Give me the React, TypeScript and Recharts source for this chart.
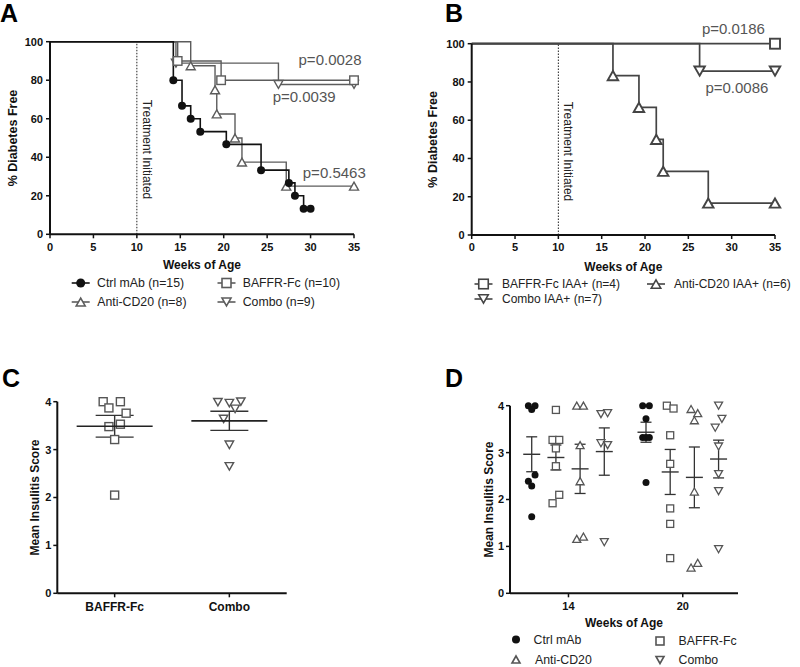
import React from 'react';
import {
  LineChart,
  Line,
  XAxis,
  YAxis,
  ReferenceLine,
  ReferenceDot,
  ScatterChart,
  Scatter,
  ErrorBar,
} from 'recharts';

const FONT = '"Liberation Sans", Arial, Helvetica, sans-serif';
const INK = '#111111';
const GREY = '#5c5c5c';
const DARK = '#444444';

// ---- A: diabetes-free, all mice ----
const weekTicks = [0, 5, 10, 15, 20, 25, 30, 35];
const freeTicks = [0, 20, 40, 60, 80, 100];
const treatmentWeek = 10;

const ctrlWeeks = [0, 14.2, 15.2, 16.2, 17.3, 20.3, 24.3, 27.5, 28.2, 29.2, 30];
const ctrlFree = [100, 80, 66.7, 60, 53.3, 46.7, 33.3, 26.7, 20, 13.3, 13.3];
const baffrWeeks = [0, 14.7, 19.7, 35];
const baffrFree = [100, 90, 80, 80];
const antiWeeks = [0, 16.2, 19.0, 19.2, 21.3, 22.1, 27.2, 35];
const antiFree = [100, 87.5, 75, 62.5, 50, 37.5, 25, 25];
const comboWeeks = [0, 14.5, 26.3, 35];
const comboFree = [100, 88.9, 77.8, 77.8];

// ---- B: IAA+ subset ----
const iaaBaffrWeeks = [0, 35];
const iaaBaffrFree = [100, 100];
const iaaComboWeeks = [0, 26.3, 35];
const iaaComboFree = [100, 85.7, 85.7];
const iaaAntiWeeks = [0, 16.3, 19.3, 21.3, 22.1, 27.3, 35];
const iaaAntiFree = [100, 83.3, 66.7, 50, 33.3, 16.7, 16.7];

// ---- C: insulitis score, end of study ----
const cGroups = ['BAFFR-Fc', 'Combo'];
const scoreTicks = [0, 1, 2, 3, 4];
const cBaffr = [4.0, 4.0, 3.87, 3.76, 3.53, 3.48, 3.21, 2.05];
const cBaffrSlot = [-2, 1, -1, 2, 1, -1, 0, 0];
const cCombo = [3.99, 3.97, 4.0, 3.85, 3.64, 3.1, 2.65];
const cComboSlot = [-2, 0, 2, 1, -1, 0, 0];

// ---- D: insulitis score by week ----
const dWeeks = [14, 20];
const dCtrl14 = [4.0, 4.0, 3.92, 2.52, 2.39, 2.29, 1.63];
const dCtrl14Slot = [-1, 1, 0, 1, -1, 0, 0];
const dBaffr14 = [3.91, 3.27, 3.27, 3.09, 2.71, 1.92, 2.1];
const dBaffr14Slot = [0, -1, 1, 0, 0, -1, 1];
const dAnti14 = [4.0, 4.0, 3.16, 2.39, 1.16, 1.21];
const dAnti14Slot = [-1, 1, 0, 0, -1, 1];
const dCombo14 = [3.82, 3.84, 3.2, 3.16, 1.09];
const dCombo14Slot = [-1, 1, -1, 1, 0];
const dCtrl20 = [4.0, 4.0, 3.72, 3.32, 3.32, 3.32, 2.36];
const dCtrl20Slot = [-1, 1, 0, -1, 0, 1, 0];
const dBaffr20 = [4.0, 3.94, 3.37, 2.76, 1.81, 1.48, 0.75];
const dBaffr20Slot = [-1, 1, 0, 0, 0, 0, 0];
const dAnti20 = [3.93, 3.84, 3.69, 2.17, 0.55, 0.65];
const dAnti20Slot = [-1, 1, 0, 0, -1, 1];
const dCombo20 = [4.0, 3.72, 3.53, 3.13, 2.54, 2.18, 0.94];
const dCombo20Slot = [0, 1, -1, 0, 0, 0, 0];

// horizontal dodge of the four treatment columns around each week (in weeks)
const dDodge = [-1.93, -0.66, 0.61, 1.88];

type Kind = 'circle' | 'square' | 'up' | 'down';

const steps = (xs: number[], ys: number[]) => xs.map((x, i) => ({ x, y: ys[i] }));
const mean = (v: number[]) => v.reduce((a, b) => a + b, 0) / v.length;
const sem = (v: number[]) => {
  const m = mean(v);
  const ss = v.reduce((a, b) => a + (b - m) * (b - m), 0);
  return Math.sqrt(ss / (v.length - 1)) / Math.sqrt(v.length);
};
const spread = (values: number[], slots: number[], center: number, step: number) =>
  values.map((y, i) => ({ x: center + slots[i] * step, y }));
const summary = (values: number[], x: number) => ({ x, y: mean(values), sem: sem(values) });

function Marker({ kind, cx, cy, size, stroke, sw = 1.4 }: {
  kind: Kind; cx: number; cy: number; size: number; stroke: string; sw?: number;
}) {
  const h = size / 2;
  const th = size * 0.88;
  if (kind === 'circle') return <circle cx={cx} cy={cy} r={h} fill={stroke} />;
  if (kind === 'square')
    return <rect x={cx - h} y={cy - h} width={size} height={size} fill="#fff" stroke={stroke} strokeWidth={sw} />;
  const d = kind === 'up'
    ? `M${cx},${cy - th / 2}L${cx + h},${cy + th / 2}L${cx - h},${cy + th / 2}Z`
    : `M${cx},${cy + th / 2}L${cx + h},${cy - th / 2}L${cx - h},${cy - th / 2}Z`;
  return <path d={d} fill="#fff" stroke={stroke} strokeWidth={sw} strokeLinejoin="miter" />;
}

// survival curves mark every event after the start point
const kmDot = (kind: Kind, color: string, size: number, sw: number) => (p: any) => {
  if (p.index === 0 || p.cx == null) return <g key={`d${p.index}`} />;
  return <Marker key={`d${p.index}`} kind={kind} cx={p.cx} cy={p.cy} size={size} stroke={color} sw={sw} />;
};

const pointShape = (kind: Kind, color: string, size: number, sw = 1.3) => (p: any) =>
  <Marker kind={kind} cx={p.cx} cy={p.cy} size={size} stroke={color} sw={sw} />;

const meanShape = (half: number, color: string, width: number) => (p: any) =>
  <line x1={p.cx - half} x2={p.cx + half} y1={p.cy} y2={p.cy} stroke={color} strokeWidth={width} />;

const TreatmentLabel = (props: any) => {
  const vb = props.viewBox || { x: 0, y: 0 };
  const x = vb.x + 6;
  const y = vb.y + 58;
  return (
    <text x={x} y={y} transform={`rotate(90 ${x} ${y})`} fontSize={12} fill="#222">
      Treatment Initiated
    </text>
  );
};

const axisLine = { stroke: INK, strokeWidth: 2 };
const tickLine = { stroke: INK, strokeWidth: 1.5 };
const tickFont = { fontSize: 11, fontWeight: 700, fill: INK };
const titleStyle = (size: number) => ({ fontSize: size, fontWeight: 700, fill: INK, textAnchor: 'middle' as const });

function PanelA() {
  return (
    <LineChart width={380} height={280} margin={{ top: 41.7, right: 26, bottom: 0, left: 0 }}>
      <XAxis
        type="number" dataKey="x" domain={[0, 35]} ticks={weekTicks}
        axisLine={axisLine} tickLine={tickLine} tickSize={4} tickMargin={5} tick={tickFont} height={45.7}
        label={{ value: 'Weeks of Age', position: 'insideBottom', offset: 10.7, style: titleStyle(12) }}
      />
      <YAxis
        type="number" dataKey="y" domain={[0, 100]} ticks={freeTicks}
        axisLine={axisLine} tickLine={tickLine} tickSize={4} tickMargin={3} tick={tickFont} width={50}
        label={{ value: '% Diabetes Free', angle: -90, position: 'insideLeft', offset: 12.7, style: titleStyle(12.5) }}
      />
      <ReferenceLine x={treatmentWeek} stroke="#222" strokeDasharray="1.5 1.5" label={<TreatmentLabel />} />
      <Line data={steps(comboWeeks, comboFree)} dataKey="y" type="stepAfter" stroke={GREY} strokeWidth={1.4}
        dot={kmDot('down', GREY, 9, 1.4)} activeDot={false} isAnimationActive={false} />
      <Line data={steps(antiWeeks, antiFree)} dataKey="y" type="stepAfter" stroke={GREY} strokeWidth={1.4}
        dot={kmDot('up', GREY, 9, 1.4)} activeDot={false} isAnimationActive={false} />
      <Line data={steps(baffrWeeks, baffrFree)} dataKey="y" type="stepAfter" stroke={GREY} strokeWidth={1.4}
        dot={kmDot('square', GREY, 8.5, 1.4)} activeDot={false} isAnimationActive={false} />
      <Line data={steps(ctrlWeeks, ctrlFree)} dataKey="y" type="stepAfter" stroke={INK} strokeWidth={1.6}
        dot={kmDot('circle', INK, 8, 1)} activeDot={false} isAnimationActive={false} />
      <ReferenceDot x={32.24} y={90.5} r={0} stroke="none" ifOverflow="visible"
        label={{ value: 'p=0.0028', position: 'center', fill: '#555', fontSize: 15 }} />
      <ReferenceDot x={29.26} y={71.5} r={0} stroke="none" ifOverflow="visible"
        label={{ value: 'p=0.0039', position: 'center', fill: '#555', fontSize: 15 }} />
      <ReferenceDot x={32.73} y={32} r={0} stroke="none" ifOverflow="visible"
        label={{ value: 'p=0.5463', position: 'center', fill: '#555', fontSize: 15 }} />
    </LineChart>
  );
}

function PanelB() {
  return (
    <LineChart width={380} height={280} margin={{ top: 43.7, right: 25, bottom: 0, left: 0 }}>
      <XAxis
        type="number" dataKey="x" domain={[0, 35]} ticks={weekTicks}
        axisLine={axisLine} tickLine={tickLine} tickSize={4} tickMargin={4} tick={tickFont} height={45}
        label={{ value: 'Weeks of Age', position: 'insideBottom', offset: 8.7, style: titleStyle(12) }}
      />
      <YAxis
        type="number" dataKey="y" domain={[0, 100]} ticks={freeTicks}
        axisLine={axisLine} tickLine={tickLine} tickSize={4} tickMargin={3} tick={tickFont} width={51.7}
        label={{ value: '% Diabetes Free', angle: -90, position: 'insideLeft', offset: 12.7, style: titleStyle(12.5) }}
      />
      <ReferenceLine x={treatmentWeek} stroke="#222" strokeDasharray="1.5 1.5" label={<TreatmentLabel />} />
      <Line data={steps(iaaBaffrWeeks, iaaBaffrFree)} dataKey="y" type="stepAfter" stroke={DARK} strokeWidth={1.7}
        dot={kmDot('square', DARK, 10, 1.9)} activeDot={false} isAnimationActive={false} />
      <Line data={steps(iaaComboWeeks, iaaComboFree)} dataKey="y" type="stepAfter" stroke={DARK} strokeWidth={1.7}
        dot={kmDot('down', DARK, 10.5, 1.9)} activeDot={false} isAnimationActive={false} />
      <Line data={steps(iaaAntiWeeks, iaaAntiFree)} dataKey="y" type="stepAfter" stroke={DARK} strokeWidth={1.7}
        dot={kmDot('up', DARK, 10.5, 1.9)} activeDot={false} isAnimationActive={false} />
      <ReferenceDot x={30.2} y={108} r={0} stroke="none" ifOverflow="visible"
        label={{ value: 'p=0.0186', position: 'center', fill: '#555', fontSize: 15 }} />
      <ReferenceDot x={30.6} y={77.2} r={0} stroke="none" ifOverflow="visible"
        label={{ value: 'p=0.0086', position: 'center', fill: '#555', fontSize: 15 }} />
    </LineChart>
  );
}

const cCenters = cGroups.map((_, i) => 1 + 2 * i);
const cStep = 0.1;

function PanelC() {
  const baffrPts = spread(cBaffr, cBaffrSlot, cCenters[0], cStep);
  const comboPts = spread(cCombo, cComboSlot, cCenters[1], cStep);
  const stats = [summary(cBaffr, cCenters[0]), summary(cCombo, cCenters[1])];
  return (
    <ScatterChart width={300} height={290} margin={{ top: 71.7, right: 13.3, bottom: 0, left: 0 }}>
      <XAxis
        type="number" dataKey="x" domain={[0, 4]} ticks={cCenters}
        tickFormatter={(v: number) => cGroups[cCenters.indexOf(v)] ?? ''}
        axisLine={axisLine} tickLine={tickLine} tickSize={4} tickMargin={5}
        tick={{ ...tickFont, fontSize: 12 }} height={26.7}
      />
      <YAxis
        type="number" dataKey="y" domain={[0, 4]} ticks={scoreTicks}
        axisLine={axisLine} tickLine={tickLine} tickSize={4} tickMargin={2} tick={tickFont} width={57.3}
        label={{ value: 'Mean Insulitis Score', angle: -90, position: 'insideLeft', offset: 34.3, style: titleStyle(12) }}
      />
      <Scatter data={baffrPts} shape={pointShape('square', '#555', 8, 1.4)} isAnimationActive={false} />
      <Scatter data={comboPts} shape={pointShape('down', '#555', 8.5, 1.4)} isAnimationActive={false} />
      <Scatter data={stats} shape={meanShape(38, '#222', 1.6)} isAnimationActive={false}>
        <ErrorBar dataKey="sem" direction="y" width={19} stroke="#333" strokeWidth={1.4} isAnimationActive={false} />
      </Scatter>
    </ScatterChart>
  );
}

const dStep = 0.175;

function PanelD() {
  const ctrl = [
    ...spread(dCtrl14, dCtrl14Slot, dWeeks[0] + dDodge[0], dStep),
    ...spread(dCtrl20, dCtrl20Slot, dWeeks[1] + dDodge[0], dStep),
  ];
  const baffr = [
    ...spread(dBaffr14, dBaffr14Slot, dWeeks[0] + dDodge[1], dStep),
    ...spread(dBaffr20, dBaffr20Slot, dWeeks[1] + dDodge[1], dStep),
  ];
  const anti = [
    ...spread(dAnti14, dAnti14Slot, dWeeks[0] + dDodge[2], dStep),
    ...spread(dAnti20, dAnti20Slot, dWeeks[1] + dDodge[2], dStep),
  ];
  const combo = [
    ...spread(dCombo14, dCombo14Slot, dWeeks[0] + dDodge[3], dStep),
    ...spread(dCombo20, dCombo20Slot, dWeeks[1] + dDodge[3], dStep),
  ];
  const stats = [
    summary(dCtrl14, dWeeks[0] + dDodge[0]),
    summary(dBaffr14, dWeeks[0] + dDodge[1]),
    summary(dAnti14, dWeeks[0] + dDodge[2]),
    summary(dCombo14, dWeeks[0] + dDodge[3]),
    summary(dCtrl20, dWeeks[1] + dDodge[0]),
    summary(dBaffr20, dWeeks[1] + dDodge[1]),
    summary(dAnti20, dWeeks[1] + dDodge[2]),
    summary(dCombo20, dWeeks[1] + dDodge[3]),
  ];
  return (
    <ScatterChart width={290} height={310} margin={{ top: 75.7, right: 12, bottom: 0, left: 0 }}>
      <XAxis
        type="number" dataKey="x" domain={[10.93, 22.9]} ticks={dWeeks}
        axisLine={axisLine} tickLine={tickLine} tickSize={4} tickMargin={5} tick={tickFont} height={46.7}
        label={{ value: 'Weeks of Age', position: 'insideBottom', offset: 13, style: titleStyle(12) }}
      />
      <YAxis
        type="number" dataKey="y" domain={[0, 4]} ticks={scoreTicks}
        axisLine={axisLine} tickLine={tickLine} tickSize={4} tickMargin={2} tick={tickFont} width={50}
        label={{ value: 'Mean Insulitis Score', angle: -90, position: 'insideLeft', offset: 28.3, style: titleStyle(12) }}
      />
      <Scatter data={ctrl} shape={pointShape('circle', INK, 7)} isAnimationActive={false} />
      <Scatter data={baffr} shape={pointShape('square', '#555', 7, 1.3)} isAnimationActive={false} />
      <Scatter data={anti} shape={pointShape('up', '#555', 8, 1.3)} isAnimationActive={false} />
      <Scatter data={combo} shape={pointShape('down', '#555', 8, 1.3)} isAnimationActive={false} />
      <Scatter data={stats} shape={meanShape(8.5, '#333', 1.4)} isAnimationActive={false}>
        <ErrorBar dataKey="sem" direction="y" width={5.5} stroke="#333" strokeWidth={1.3} isAnimationActive={false} />
      </Scatter>
    </ScatterChart>
  );
}

type Entry = { kind: Kind; label: string; x: number; y: number; tx: number; color: string };

const legendA: Entry[] = [
  { kind: 'circle', label: 'Ctrl mAb (n=15)', x: 80.7, y: 283, tx: 97, color: INK },
  { kind: 'square', label: 'BAFFR-Fc (n=10)', x: 226.5, y: 283, tx: 242.7, color: GREY },
  { kind: 'up', label: 'Anti-CD20 (n=8)', x: 80.7, y: 302, tx: 97.3, color: GREY },
  { kind: 'down', label: 'Combo (n=9)', x: 226.5, y: 302, tx: 242.7, color: GREY },
];
const legendB: Entry[] = [
  { kind: 'square', label: 'BAFFR-Fc IAA+ (n=4)', x: 483.5, y: 284, tx: 502, color: DARK },
  { kind: 'up', label: 'Anti-CD20 IAA+ (n=6)', x: 656, y: 284, tx: 674, color: DARK },
  { kind: 'down', label: 'Combo IAA+ (n=7)', x: 483.5, y: 299, tx: 502, color: DARK },
];
const legendD: Entry[] = [
  { kind: 'circle', label: 'Ctrl mAb', x: 516, y: 639.5, tx: 533.5, color: INK },
  { kind: 'square', label: 'BAFFR-Fc', x: 660, y: 641, tx: 678.5, color: '#555' },
  { kind: 'up', label: 'Anti-CD20', x: 516, y: 659.5, tx: 535, color: '#555' },
  { kind: 'down', label: 'Combo', x: 660, y: 660, tx: 678.5, color: '#555' },
];

function LegendRows({ items, fontSize, withLine, size }: {
  items: Entry[]; fontSize: number; withLine: boolean; size: number;
}) {
  return (
    <g>
      {items.map((e) => (
        <g key={e.label}>
          {withLine && <line x1={e.x - 9} x2={e.x + 9} y1={e.y} y2={e.y} stroke={e.color} strokeWidth={1.6} />}
          <Marker kind={e.kind} cx={e.x} cy={e.y} size={size} stroke={e.color} sw={1.6} />
          <text x={e.tx} y={e.y} dy="0.36em" fontSize={fontSize} fill="#222">{e.label}</text>
        </g>
      ))}
    </g>
  );
}

export default function App() {
  return (
    <div style={{ position: 'absolute', left: 0, top: 0, width: 800, height: 667, background: '#fff', fontFamily: FONT, overflow: 'hidden' }}>
      <div style={{ position: 'absolute', left: 0, top: 0 }}><PanelA /></div>
      <div style={{ position: 'absolute', left: 420, top: 0 }}><PanelB /></div>
      <div style={{ position: 'absolute', left: 0, top: 330 }}><PanelC /></div>
      <div style={{ position: 'absolute', left: 460, top: 330 }}><PanelD /></div>
      <svg width={800} height={667} style={{ position: 'absolute', left: 0, top: 0, pointerEvents: 'none' }}>
        <g fontWeight={700} fontSize={25} fill="#000">
          <text x={0} y={21.7}>A</text>
          <text x={445} y={21.7}>B</text>
          <text x={2} y={387}>C</text>
          <text x={445} y={386.7}>D</text>
        </g>
        <LegendRows items={legendA} fontSize={12.3} withLine size={9} />
        <LegendRows items={legendB} fontSize={12} withLine size={9.5} />
        <LegendRows items={legendD} fontSize={12.3} withLine={false} size={8} />
      </svg>
    </div>
  );
}
